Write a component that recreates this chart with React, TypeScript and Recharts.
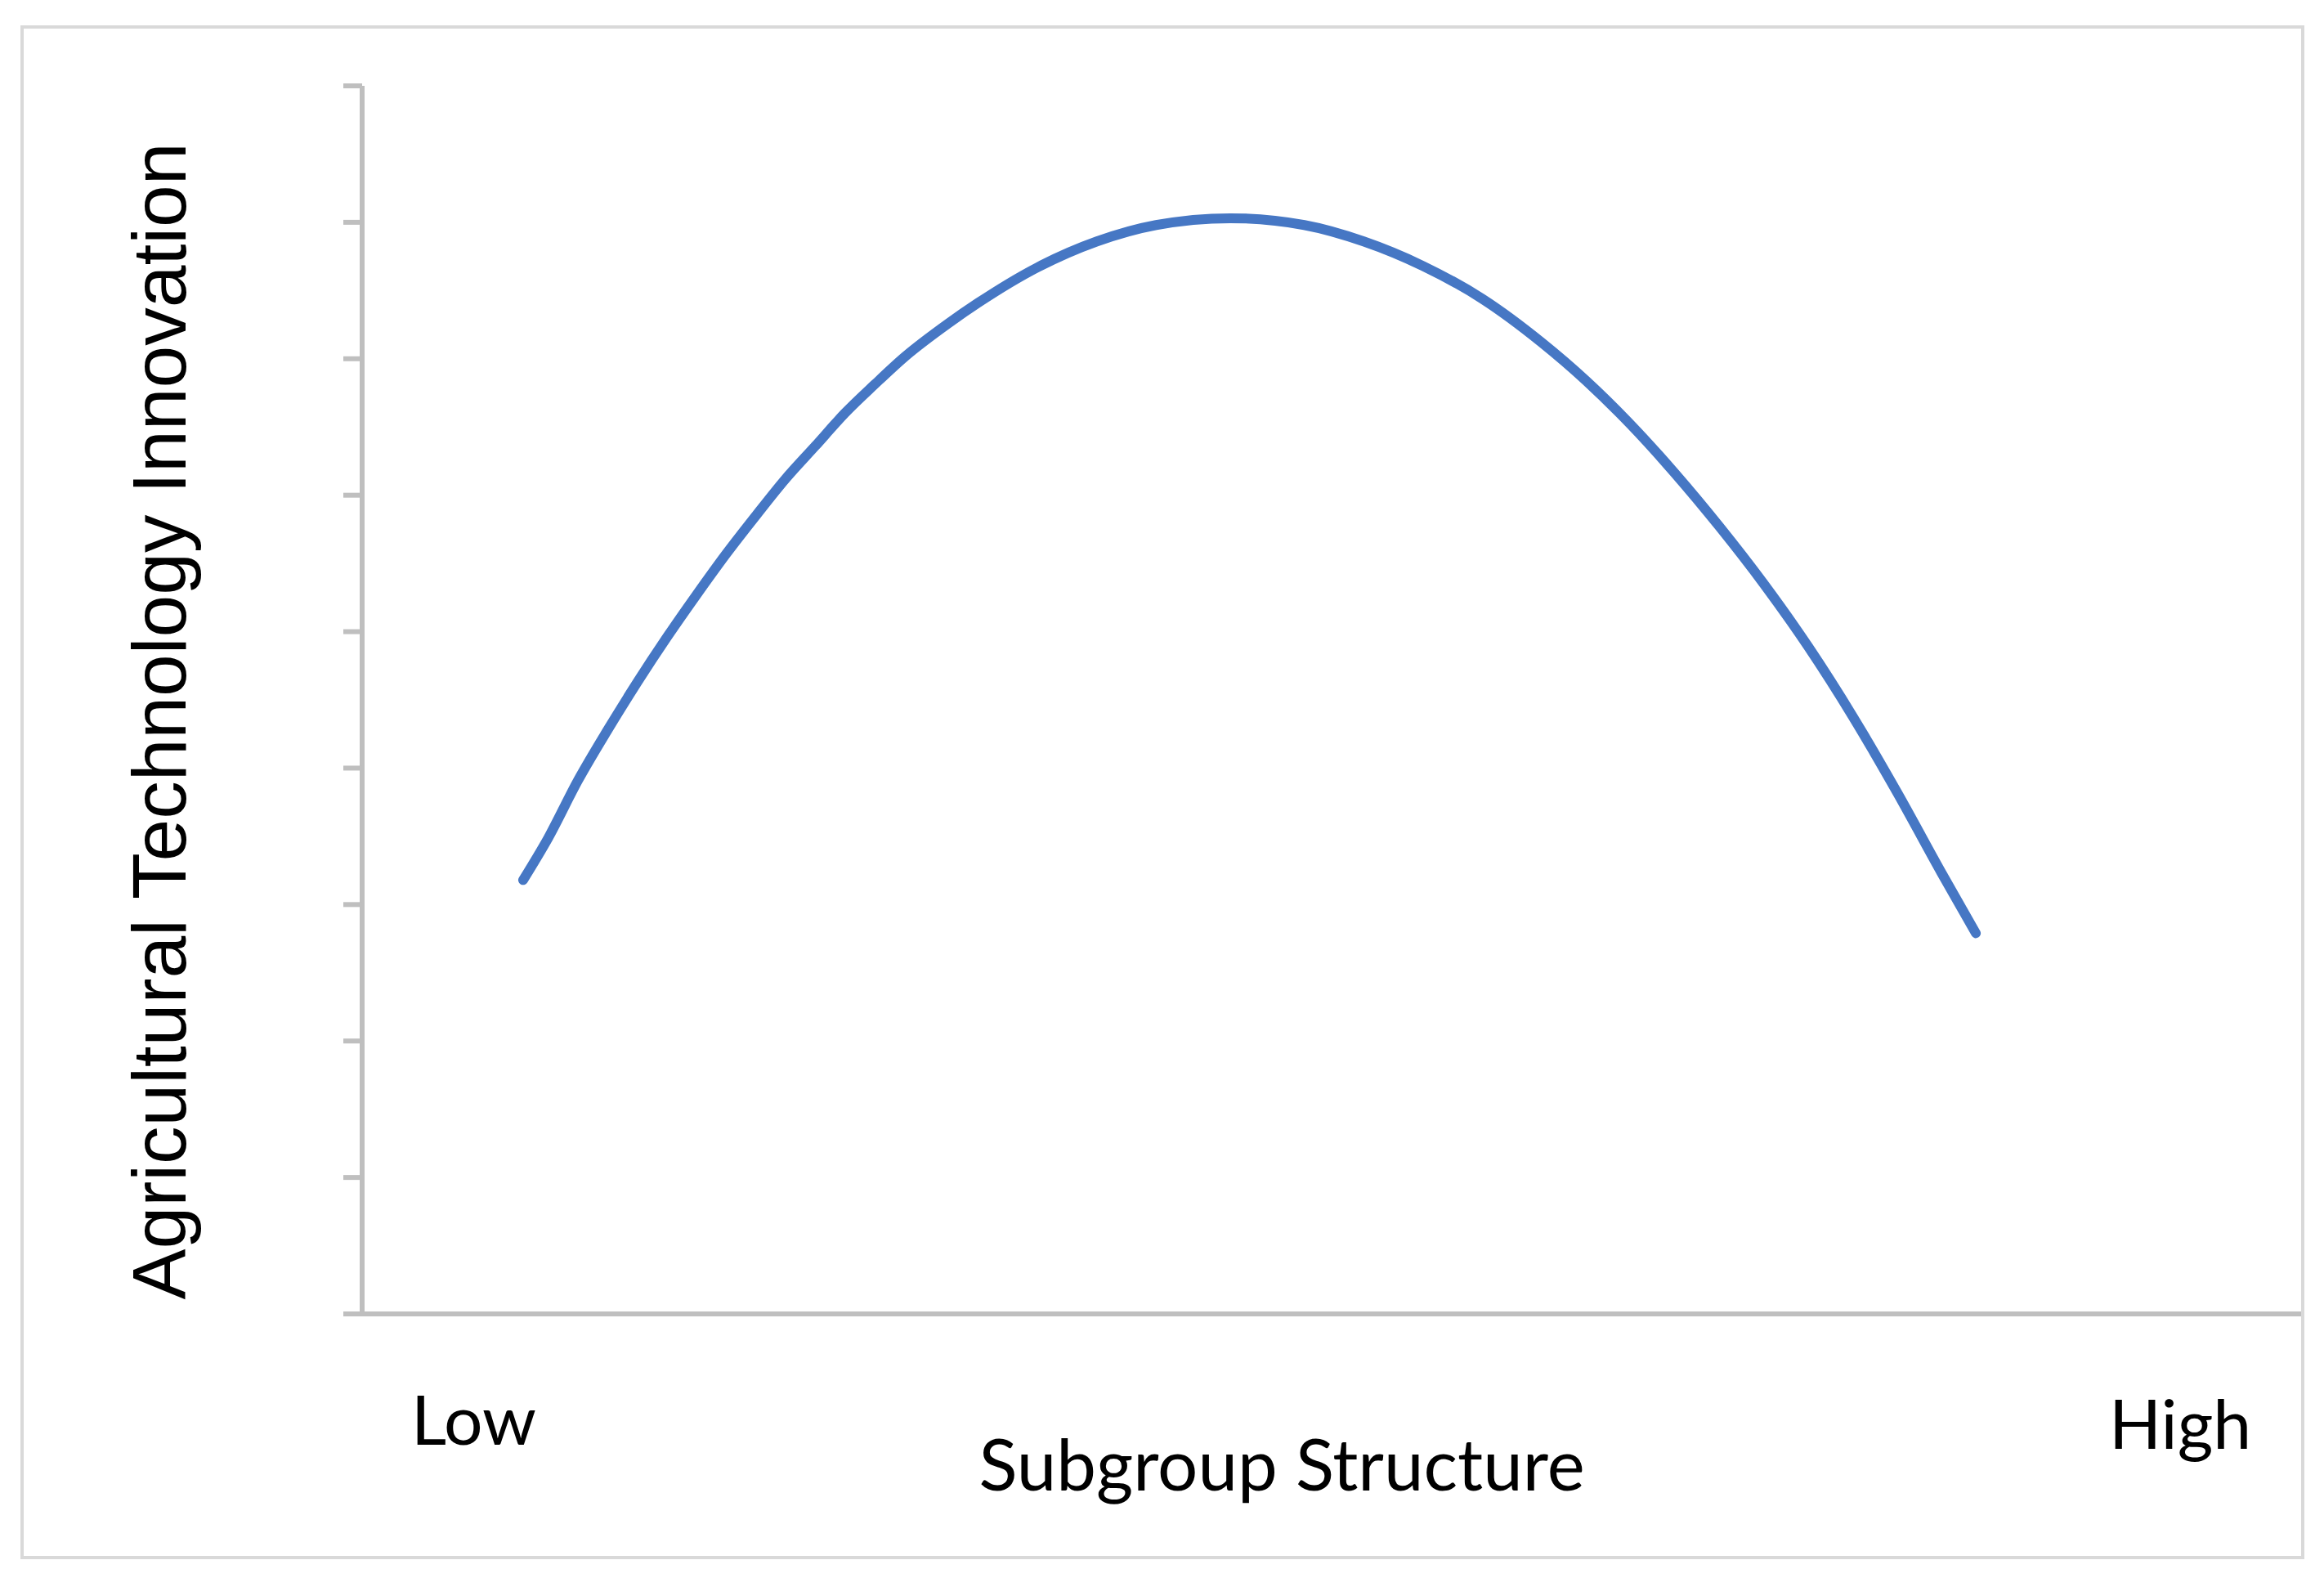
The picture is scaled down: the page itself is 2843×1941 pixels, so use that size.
import { LineChart, Line, XAxis, YAxis } from "recharts";

// position along "Subgroup Structure" (0 = low end of axis, 100 = high end)
const structure = [
  8.3, 9.6, 11.13, 12.66, 14.19, 15.72, 17.24, 18.77, 20.3, 21.83, 23.36,
  24.88, 26.41, 27.94, 30.23, 31.76, 34.82, 37.88, 40.93, 44.75, 48.57, 51.63,
  54.69, 57.74, 60.8, 63.09, 65.38, 67.68, 69.97, 72.26, 74.55, 76.84, 79.14,
  81.43, 83.19,
];
// "Agricultural Technology Innovation" level
const innovation = [
  3.18, 3.49, 3.91, 4.28, 4.63, 4.96, 5.27, 5.57, 5.85, 6.12, 6.36, 6.6, 6.81,
  7.01, 7.26, 7.41, 7.67, 7.86, 7.98, 8.03, 7.98, 7.86, 7.68, 7.44, 7.12, 6.84,
  6.52, 6.16, 5.77, 5.35, 4.89, 4.38, 3.82, 3.23, 2.79,
];
const yTicks = [0, 1, 2, 3, 4, 5, 6, 7, 8, 9];

const data = structure.map((x, i) => ({ x, y: innovation[i] }));

const AXIS = "#bfbfbf";

// the chart shows tick marks but no tick labels
const NoLabel = () => <g />;

export default function App() {
  return (
    <div
      style={{
        position: "absolute",
        left: 0,
        top: 0,
        width: 2843,
        height: 1941,
        background: "#ffffff",
      }}
    >
      <LineChart
        width={2843}
        height={1941}
        data={data}
        margin={{ top: 105, right: 27, bottom: 304, left: 413 }}
      >
        <XAxis
          type="number"
          dataKey="x"
          domain={[0, 100]}
          tick={false}
          tickLine={false}
          axisLine={{ stroke: AXIS, strokeWidth: 6 }}
          height={30}
        />
        <YAxis
          type="number"
          domain={[0, 9]}
          ticks={yTicks}
          interval={0}
          tick={NoLabel}
          tickSize={23}
          tickLine={{ stroke: AXIS, strokeWidth: 6 }}
          axisLine={{ stroke: AXIS, strokeWidth: 6 }}
          width={30}
        />
        <Line
          type="monotone"
          dataKey="y"
          stroke="#4677C4"
          strokeWidth={12}
          strokeLinecap="round"
          dot={false}
          isAnimationActive={false}
        />
      </LineChart>
      <svg
        width={2843}
        height={1941}
        style={{ position: "absolute", left: 0, top: 0, pointerEvents: "none" }}
      >
        <rect
          x={27}
          y={33}
          width={2790}
          height={1872}
          fill="none"
          stroke="#d9d9d9"
          strokeWidth={4}
        />
        <text
          x={227}
          y={882}
          transform="rotate(-90 227 882)"
          textAnchor="middle"
          fontFamily="Liberation Sans"
          fontSize={93}
          fill="#000"
        >
          Agricultural Technology Innovation
        </text>
        <text x={503} y={1767} fontFamily="Lato" fontSize={84} fill="#000">
          Low
        </text>
        <text x={2580} y={1772} fontFamily="Lato" fontSize={84} fill="#000">
          High
        </text>
        <text
          x={1568}
          y={1823}
          textAnchor="middle"
          fontFamily="Lato"
          fontSize={87}
          fill="#000"
        >
          Subgroup Structure
        </text>
      </svg>
    </div>
  );
}
